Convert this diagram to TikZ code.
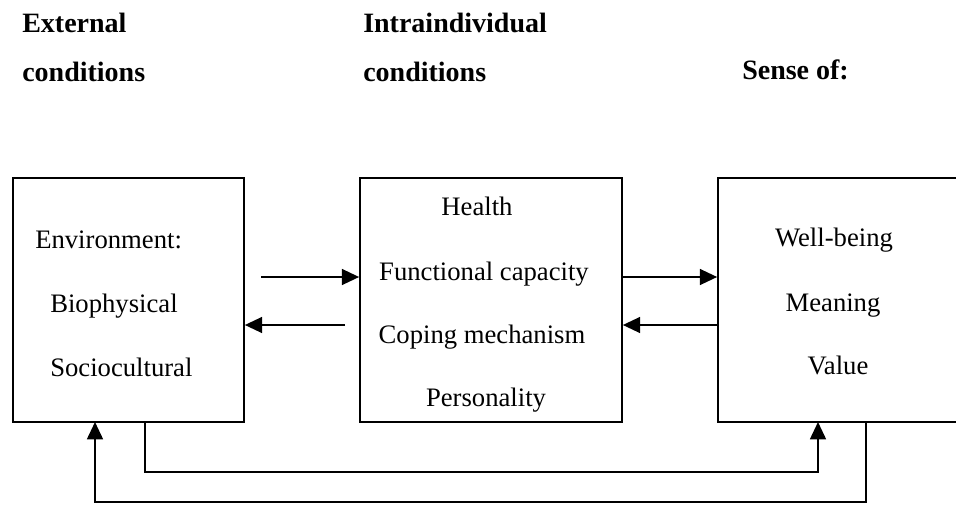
\documentclass[tikz,border=0pt]{standalone}
\usepackage{fontspec}
\setmainfont{Liberation Serif}
\usetikzlibrary{arrows.meta}
\begin{document}
\begin{tikzpicture}[x=0.75pt,y=-0.75pt,
  box/.style={draw,line width=1.3pt,minimum height=183pt,inner sep=0pt},
  lbl/.style={font=\fontsize{20}{22}\selectfont,inner sep=0pt,anchor=base},
  lblw/.style={font=\fontsize{20}{22}\selectfont,inner sep=0pt,anchor=base west},
  hdr/.style={font=\fontsize{21}{24}\selectfont\bfseries,inner sep=0pt,anchor=base west},
  conn/.style={line width=1.3pt,-{Triangle[length=13pt,width=12pt]}},
  ]
\useasboundingbox (0,0) rectangle (956,504);
% boxes
\node[box,minimum width=173.25pt] (ext) at (128.5,300) {};
\node[box,minimum width=196.5pt] (int) at (491,300) {};
\node[box,minimum width=187.5pt] (sen) at (843,300) {};
% headers
\node[hdr] (h1a) at (22,32) {External};
\node[hdr] (h1b) at (22,81) {conditions};
\node[hdr] (h2a) at (363,32) {Intraindividual};
\node[hdr] (h2b) at (363,81) {conditions};
\node[hdr] (h3) at (742,79) {Sense of:};
% left box text
\node[lblw] (t1) at (35,248) {Environment:};
\node[lblw] (t2) at (50,312) {Biophysical};
\node[lblw] (t3) at (50,376) {Sociocultural};
% middle box text
\node[lbl] (m1) at (477,215) {Health};
\node[lbl] (m2) at (484,280) {Functional capacity};
\node[lbl] (m3) at (482,343) {Coping mechanism};
\node[lbl] (m4) at (486,406) {Personality};
% right box text
\node[lbl] (r1) at (834,246) {Well-being};
\node[lbl] (r2) at (833,311) {Meaning};
\node[lbl] (r3) at (838,374) {Value};
% arrows between boxes
\coordinate (a1s) at (261,277);
\coordinate (a2s) at (345,325);
\draw[conn] (a1s) -- (a1s -| int.west);
\draw[conn] (a2s) -- (a2s -| ext.east);
\draw[conn] ([yshift=17.25pt]int.east) -- ([yshift=17.25pt]int.east -| sen.west);
\draw[conn] ([yshift=-18.75pt]sen.west) -- ([yshift=-18.75pt]sen.west -| int.east);
% feedback loops
\coordinate (b1) at (145,422);
\coordinate (b1e) at (818,422);
\coordinate (b2) at (866,422);
\coordinate (b2e) at (95,422);
\draw[conn] (b1) -- ++(0,50) -| (b1e);
\draw[conn] (b2) -- ++(0,80) -| (b2e);
\end{tikzpicture}
\end{document}
